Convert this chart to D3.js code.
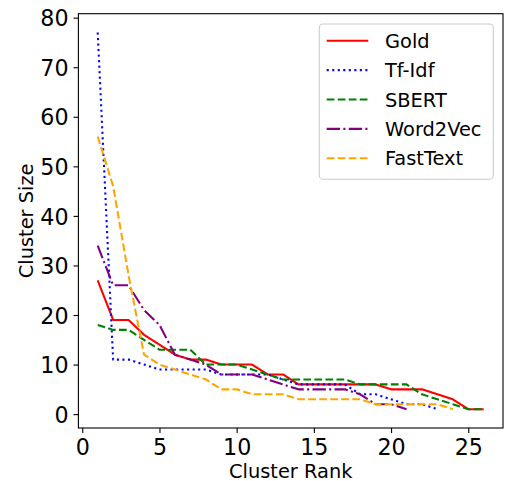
<!DOCTYPE html>
<html>
<head>
<meta charset="utf-8">
<script src="https://cdn.jsdelivr.net/npm/d3@7"></script>
<style>
  html, body { margin: 0; padding: 0; background: #fff; }
  svg { display: block; font-family: "DejaVu Sans", sans-serif; }
</style>
</head>
<body>
<svg id="chart" width="505" height="481"></svg>
<script>
// ---- data ----
const seriesNames = ["Gold", "Tf-Idf", "SBERT", "Word2Vec", "FastText"];
const gold     = [27,19,19,16,14,12,11,11,10,10,10,8,8,6,6,6,6,6,6,5,5,5,4,3,1,1];
const tfidf    = [77,11,11,10,9,9,9,9,8,8,8,8,7,6,6,6,6,4,4,3,2,2,1];
const sbert    = [18,17,17,15,13,13,13,10,10,10,9,8,7,7,7,7,7,6,6,6,6,4,3,2,1,1];
const word2vec = [34,26,26,21,18,12,11,10,8,8,8,7,6,5,5,5,5,4,2,2,1];
const fasttext = [56,46,28,12,10,9,8,7,5,5,4,4,4,3,3,3,3,3,2,2,2,2,2,1];
const xTicks = [0, 5, 10, 15, 20, 25];
const yTicks = [0, 10, 20, 30, 40, 50, 60, 70, 80];

// ---- styles ----
const styles = {
  "Gold":     { color: "#ff0000", dash: null },
  "Tf-Idf":   { color: "#0000ff", dash: "2.08,3.44" },
  "SBERT":    { color: "#008000", dash: "7.7,3.33" },
  "Word2Vec": { color: "#800080", dash: "13.3,3.33,2.08,3.33" },
  "FastText": { color: "#ffa500", dash: "7.7,3.33" }
};
const allSeries = [gold, tfidf, sbert, word2vec, fasttext];

const svg = d3.select("#chart");
const L = 78.4, R = 503, T = 13.7, B = 428;

const x = d3.scaleLinear().domain([-0.25, 27.25]).range([L, R]);
const y = d3.scaleLinear().domain([-2.8, 80.8]).range([B, T]);

// lines
const line = d3.line().x((d, i) => x(i + 1)).y(d => y(d));
const plot = svg.append("g");
plot.append("clipPath").attr("id", "clip").append("rect")
  .attr("x", L).attr("y", T).attr("width", R - L).attr("height", B - T);
allSeries.forEach((s, k) => {
  const st = styles[seriesNames[k]];
  plot.append("path")
    .datum(s)
    .attr("d", line)
    .attr("fill", "none")
    .attr("stroke", st.color)
    .attr("stroke-width", 2.08)
    .attr("stroke-dasharray", st.dash)
    .attr("stroke-linejoin", "round")
    .attr("stroke-linecap", "butt")
    .attr("clip-path", "url(#clip)");
});

// axes
const xAxis = d3.axisBottom(x).tickValues(xTicks).tickSize(4.9).tickPadding(4.9).tickFormat(d3.format("d"));
const yAxis = d3.axisLeft(y).tickValues(yTicks).tickSize(4.9).tickPadding(4.9).tickFormat(d3.format("d"));

const gx = svg.append("g").attr("transform", `translate(0,${B})`).call(xAxis);
const gy = svg.append("g").attr("transform", `translate(${L},0)`).call(yAxis);
[gx, gy].forEach(g => {
  g.select(".domain").remove();
  g.selectAll(".tick line").attr("stroke", "#000").attr("stroke-width", 1.1);
  g.selectAll(".tick text").attr("fill", "#000").attr("font-size", 22.2)
    .attr("font-family", "DejaVu Sans, sans-serif");
});
gx.selectAll(".tick text").attr("dy", null).attr("y", 27);
gy.selectAll(".tick text").attr("dy", null).attr("y", 8.1);

// frame
svg.append("rect").attr("x", L).attr("y", T).attr("width", R - L).attr("height", B - T)
  .attr("fill", "none").attr("stroke", "#000").attr("stroke-width", 1.1);

// axis labels
svg.append("text").attr("x", (L + R) / 2).attr("y", 477.5)
  .attr("text-anchor", "middle").attr("font-size", 19.4).attr("fill", "#000")
  .text("Cluster Rank");
svg.append("text")
  .attr("transform", `translate(32.5,${(T + B) / 2}) rotate(-90)`)
  .attr("text-anchor", "middle").attr("font-size", 19.4).attr("fill", "#000")
  .text("Cluster Size");

// legend
const lg = svg.append("g");
lg.append("rect").attr("x", 319.3).attr("y", 24).attr("width", 174).attr("height", 155.3)
  .attr("rx", 3.9).attr("ry", 3.9)
  .attr("fill", "#fff").attr("fill-opacity", 0.8)
  .attr("stroke", "#cccccc").attr("stroke-width", 1.1);
const rowY = d3.scaleLinear().domain([0, 4]).range([40.7, 158.3]);
seriesNames.forEach((name, k) => {
  const st = styles[name];
  const yy = rowY(k);
  lg.append("line").attr("x1", 326.7).attr("x2", 368.3).attr("y1", yy).attr("y2", yy)
    .attr("stroke", st.color).attr("stroke-width", 2.08).attr("stroke-dasharray", st.dash);
  lg.append("text").attr("x", 385).attr("y", yy + 7).attr("font-size", 19.4)
    .attr("fill", "#000").text(name);
});
</script>
</body>
</html>
